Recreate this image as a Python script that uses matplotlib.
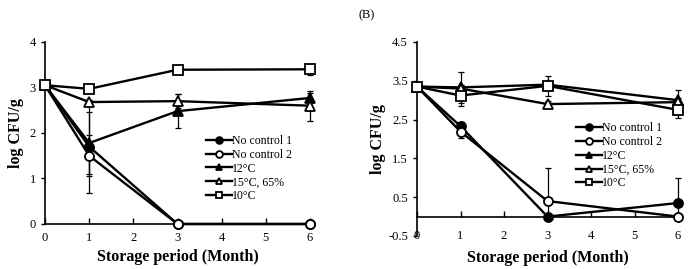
import matplotlib
matplotlib.use("Agg")
import matplotlib.pyplot as plt

plt.rcParams["font.family"] = ["Liberation Serif", "DejaVu Serif"]

# ── data ─────────────────────────────────────────────────────────────────────
months = [0, 1, 3, 6]
labels = ["No control 1", "No control 2", "12\u00b0C", "15\u00b0C, 65%", "10\u00b0C"]

# panel A
a_nc1 = [3.05, 1.70, 0.0, 0.0]
a_nc2 = [3.05, 1.50, 0.0, 0.0]
a_12 = [3.05, 1.78, 2.48, 2.77]
a_15 = [3.05, 2.68, 2.70, 2.60]
a_10 = [3.05, 2.97, 3.39, 3.40]

a_nc1_err = [0, 1.02, 0, 0]
a_nc2_err = [0, 0.45, 0, 0]
a_12_err = [0, 0.68, 0.38, 0.10]
a_15_err = [0, 0.05, 0.15, 0.33]
a_10_err = [0, 0.07, 0.05, 0.12]

# panel B
b_nc1 = [3.35, 2.33, 0.0, 0.35]
b_nc2 = [3.35, 2.19, 0.40, 0.0]
b_12 = [3.35, 3.33, 3.40, 3.00]
b_15 = [3.35, 3.30, 2.90, 2.95]
b_10 = [3.35, 3.12, 3.37, 2.75]

b_nc1_err = [0, 0.10, 0, 0.65]
b_nc2_err = [0, 0.17, 0.85, 0]
b_12_err = [0, 0.40, 0.10, 0.26]
b_15_err = [0, 0.10, 0.08, 0.10]
b_10_err = [0, 0.27, 0.25, 0.20]

markers = [("o", "black"), ("o", "white"), ("^", "black"), ("^", "white"), ("s", "white")]


def draw(ax, series, errs):
    for vals, err, (m, fc), lab in zip(series, errs, markers, labels):
        # error bars only where there is one, never below zero
        xs = [x for x, e in zip(months, err) if e > 0]
        ys = [v for v, e in zip(vals, err) if e > 0]
        lo = [min(e, v) for v, e in zip(vals, err) if e > 0]
        hi = [e for e in err if e > 0]
        ax.errorbar(xs, ys, yerr=[lo, hi], fmt="none", ecolor="black",
                    elinewidth=0.9, capsize=2.5, capthick=0.9, clip_on=False, zorder=2)
        ax.plot(months, vals, color="black", lw=1.7, marker=m, ms=6.5, mfc=fc,
                mec="black", mew=1.3, label=lab, clip_on=False, zorder=3)
    ax.set_xlim(0, 6)
    ax.set_xticks(range(7))
    for s in ["top", "right"]:
        ax.spines[s].set_visible(False)
    ax.spines["left"].set_linewidth(1.2)
    ax.spines["bottom"].set_linewidth(1.2)
    ax.tick_params(axis="x", direction="in", length=4, width=1, labelsize=9)
    ax.tick_params(axis="y", direction="out", length=3, width=1, labelsize=9)
    ax.set_xlabel("Storage period (Month)", fontsize=11.5, fontweight="bold")
    ax.set_ylabel("log CFU/g", fontsize=11.5, fontweight="bold")
    leg = ax.legend(frameon=False, fontsize=8.5, handlelength=2.2, handletextpad=0.0,
                    labelspacing=0.15, borderaxespad=0, markerscale=0.75)
    return leg


fig = plt.figure(figsize=(6.88, 2.69), dpi=100)
ax1 = fig.add_axes([0.0654, 0.1673, 0.3852, 0.6766])
ax2 = fig.add_axes([0.6061, 0.1227, 0.3794, 0.7212])

leg1 = draw(ax1, [a_nc1, a_nc2, a_12, a_15, a_10],
            [a_nc1_err, a_nc2_err, a_12_err, a_15_err, a_10_err])
ax1.set_ylim(0, 4)
ax1.set_yticks([0, 1, 2, 3, 4])
ax1.tick_params(axis="x", pad=6)
leg1.set_bbox_to_anchor((0.59, 0.515), transform=ax1.transAxes)
leg1._loc = 2
ax1.xaxis.set_label_coords(0.5, -0.14)
ax1.yaxis.set_label_coords(-0.08, 0.5)

leg2 = draw(ax2, [b_nc1, b_nc2, b_12, b_15, b_10],
            [b_nc1_err, b_nc2_err, b_12_err, b_15_err, b_10_err])
ax2.set_ylim(-0.5, 4.5)
ax2.set_yticks([-0.5, 0.5, 1.5, 2.5, 3.5, 4.5])
ax2.set_yticklabels(["-0.5", "0.5", "1.5", "2.5", "3.5", "4.5"])
ax2.spines["bottom"].set_position(("data", 0))
ax2.tick_params(axis="x", pad=9.5)
leg2.set_bbox_to_anchor((0.59, 0.61), transform=ax2.transAxes)
leg2._loc = 2
ax2.xaxis.set_label_coords(0.5, -0.072)
ax2.yaxis.set_label_coords(-0.12, 0.5)

fig.text(0.533, 0.945, "(B)", fontsize=9, ha="center", va="center")

fig.savefig("out.png", dpi=100)
